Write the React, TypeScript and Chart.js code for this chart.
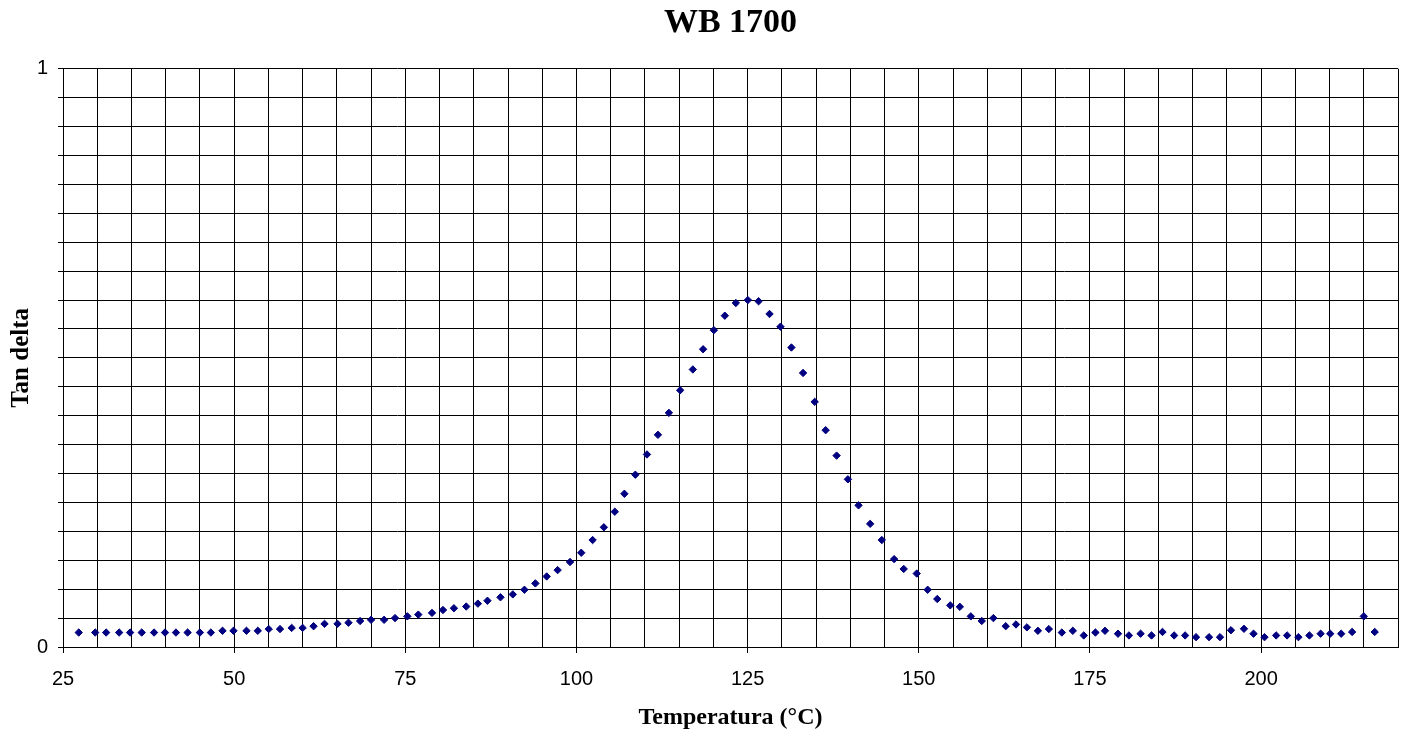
import { useEffect, useRef } from 'react';
import { Chart, registerables } from 'chart.js';

Chart.register(...registerables);

const temperature = [
  27.3, 29.7, 31.3, 33.2, 34.8, 36.5, 38.3, 39.9, 41.5, 43.2, 45.0, 46.6,
  48.3, 49.9, 51.8, 53.45, 55.05, 56.7, 58.4, 60.0, 61.6, 63.2, 65.1, 66.7,
  68.4, 70.0, 71.9, 73.5, 75.3, 76.9, 78.9, 80.5, 82.1, 83.9, 85.6, 87.0,
  88.9, 90.7, 92.4, 94.0, 95.65, 97.25, 99.06, 100.7, 102.36, 104.0, 105.6,
  107.0, 108.6, 110.3, 111.9, 113.5, 115.15, 117.0, 118.5, 120.07, 121.67,
  123.28, 125.03, 126.6, 128.2, 129.8, 131.4, 133.1, 134.8, 136.4, 138.0,
  139.65, 141.2, 142.9, 144.6, 146.4, 147.8, 149.7, 151.3, 152.7, 154.6,
  156.0, 157.6, 159.2, 160.9, 162.7, 164.2, 165.8, 167.4, 169.0, 170.9,
  172.5, 174.1, 175.8, 177.2, 179.1, 180.7, 182.4, 184.0, 185.6, 187.3,
  188.9, 190.5, 192.4, 194.0, 195.6, 197.5, 198.9, 200.5, 202.2, 203.8,
  205.45, 207.06, 208.7, 210.1, 211.7, 213.3, 215.0, 216.6,
];

const tanDelta = [
  0.025, 0.025, 0.025, 0.025, 0.025, 0.025, 0.025, 0.025, 0.025, 0.025, 0.025, 0.025,
  0.028, 0.028, 0.028, 0.028, 0.031, 0.031, 0.033, 0.033, 0.036, 0.040, 0.040, 0.042,
  0.045, 0.047, 0.047, 0.050, 0.053, 0.056, 0.059, 0.064, 0.067, 0.070, 0.075, 0.080,
  0.086, 0.091, 0.099, 0.110, 0.122, 0.133, 0.147, 0.163, 0.185, 0.207, 0.234,
  0.265, 0.298, 0.333, 0.367, 0.405, 0.444, 0.480, 0.515, 0.548, 0.573,
  0.595, 0.600, 0.598, 0.576, 0.554, 0.518, 0.474, 0.424, 0.375, 0.331,
  0.290, 0.245, 0.213, 0.185, 0.152, 0.135, 0.127, 0.099, 0.083, 0.072,
  0.0695, 0.053, 0.045, 0.050, 0.036, 0.039, 0.034, 0.028, 0.031, 0.025,
  0.028, 0.020, 0.025, 0.028, 0.023, 0.020, 0.023, 0.020, 0.026, 0.020,
  0.020, 0.017, 0.017, 0.017, 0.029, 0.0315, 0.023, 0.017, 0.020, 0.020,
  0.017, 0.020, 0.023, 0.023, 0.023, 0.026, 0.053, 0.026,
];

const xTickLabels = [25, 50, 75, 100, 125, 150, 175, 200];
const yTickLabels = [0, 1];

const isLabel = (list: number[], v: number) => list.some((t) => Math.abs(t - v) < 1e-9);

export default function App() {
  const ref = useRef<HTMLCanvasElement>(null);

  useEffect(() => {
    if (!ref.current) return;
    const chart = new Chart(ref.current, {
      type: 'scatter',
      data: {
        datasets: [
          {
            data: temperature.map((x, i) => ({ x, y: tanDelta[i] })),
            pointStyle: 'rectRot',
            pointRadius: 3.7,
            backgroundColor: '#000080',
            borderColor: '#000080',
            borderWidth: 1,
          },
        ],
      },
      options: {
        animation: false,
        responsive: false,
        layout: { padding: { left: 0, right: 11, top: 0, bottom: 0 } },
        plugins: {
          legend: { display: false },
          tooltip: { enabled: false },
          title: {
            display: true,
            text: 'WB 1700',
            fullSize: false,
            color: '#000',
            font: { family: 'Liberation Serif', size: 34, weight: 'bold' },
            padding: { top: 3, bottom: 25 },
          },
        },
        scales: {
          x: {
            type: 'linear',
            position: 'bottom',
            min: 25,
            max: 220,
            afterFit: (s: any) => {
              s.height = 88;
            },
            ticks: {
              stepSize: 5,
              autoSkip: false,
              maxRotation: 0,
              color: '#000',
              padding: 11,
              font: { family: 'Liberation Sans', size: 20, lineHeight: 1.5 },
              callback: (v: any) => (isLabel(xTickLabels, Number(v)) ? String(v) : ''),
            },
            grid: {
              color: '#000',
              lineWidth: 1,
              tickLength: 6,
              tickColor: (ctx: any) =>
                ctx.tick && isLabel(xTickLabels, ctx.tick.value) ? '#000' : 'rgba(0,0,0,0)',
            },
            border: { color: '#000' },
            title: {
              display: true,
              text: 'Temperatura (°C)',
              color: '#000',
              font: { family: 'Liberation Serif', size: 24, weight: 'bold' },
              padding: { top: 0, bottom: 3 },
            },
          },
          y: {
            type: 'linear',
            min: 0,
            max: 1,
            afterFit: (s: any) => {
              s.width = 63;
            },
            ticks: {
              stepSize: 0.05,
              autoSkip: false,
              color: '#000',
              padding: 10,
              font: { family: 'Liberation Sans', size: 20 },
              callback: (v: any) => (isLabel(yTickLabels, Number(v)) ? String(v) : ''),
            },
            grid: {
              color: '#000',
              lineWidth: 1,
              tickLength: 5,
              tickColor: '#000',
            },
            border: { color: '#000' },
            title: {
              display: true,
              text: 'Tan delta',
              color: '#000',
              font: { family: 'Liberation Serif', size: 25, weight: 'bold' },
              padding: { top: 7, bottom: 0 },
            },
          },
        },
      },
    });
    return () => chart.destroy();
  }, []);

  return (
    <div
      style={{
        position: 'fixed',
        left: 0,
        top: 0,
        width: 1409,
        height: 735,
        background: '#fff',
      }}
    >
      <canvas ref={ref} width={1409} height={735} style={{ display: 'block' }} />
    </div>
  );
}
